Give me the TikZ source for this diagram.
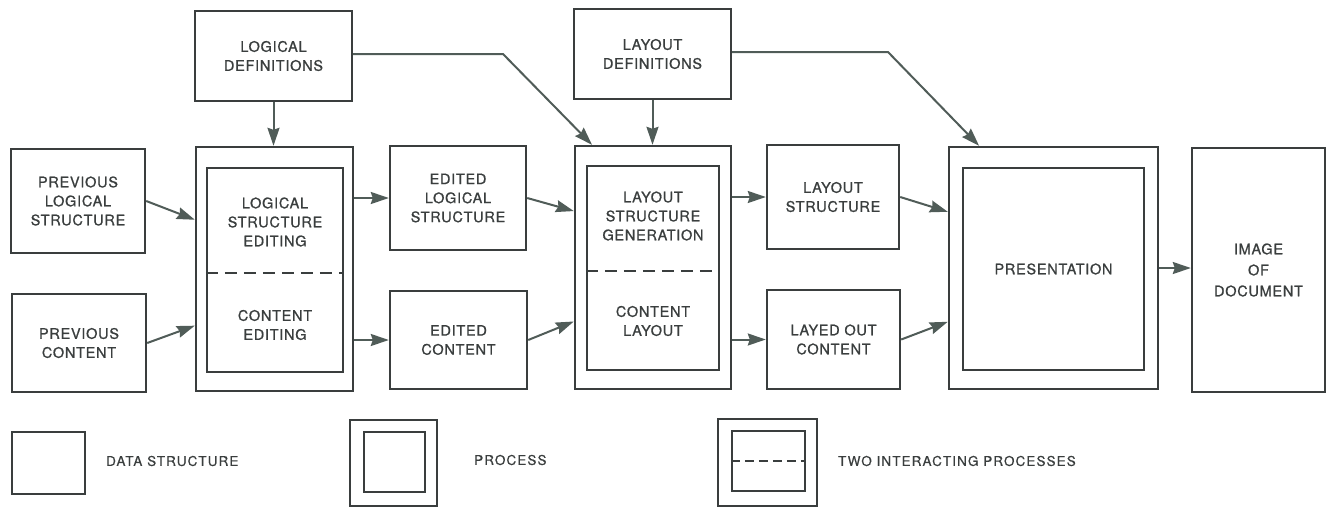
\documentclass[tikz,border=0pt]{standalone}
\usepackage{fontspec}
\setmainfont{TeX Gyre Heros}
\newfontfamily\labfont{TeX Gyre Heros}[LetterSpace=5,FakeBold=0.9]
\newfontfamily\keyfont{TeX Gyre Heros}[LetterSpace=8,FakeBold=0.5]
\usetikzlibrary{arrows.meta,calc}
\definecolor{ink}{RGB}{58,62,62}
\definecolor{arrc}{RGB}{80,92,88}
\tikzset{
  box/.style={draw=ink, line width=2.4pt, inner sep=0pt, align=center,
    font=\labfont\fontsize{14.5}{19}\selectfont, text=ink},
  txt/.style={inner sep=0pt, align=center, text=ink, font=\labfont\fontsize{14.5}{19}\selectfont},
  arr/.style={draw=arrc, line width=2pt, -{Stealth[length=18pt,width=12pt,inset=2pt]}},
  split/.style={draw=ink, line width=2.2pt, dash pattern=on 12pt off 7pt},
  keytxt/.style={inner sep=0pt, anchor=west, text=ink, font=\keyfont\fontsize{13.5}{15}\selectfont},
}
\begin{document}
\begin{tikzpicture}[x=1pt,y=-1pt]
\useasboundingbox (0,0) rectangle (1331,507);

% definitions
\node[box, minimum width=157pt, minimum height=90pt] (ld) at (273.5,56) {LOGICAL\\DEFINITIONS};
\node[box, minimum width=157pt, minimum height=90pt] (layd) at (652.5,54) {LAYOUT\\DEFINITIONS};

% inputs
\node[box, minimum width=134pt, minimum height=104pt] (pls) at (78,201) {PREVIOUS\\LOGICAL\\STRUCTURE};
\node[box, minimum width=134pt, minimum height=98pt] (pc) at (79,343) {PREVIOUS\\CONTENT};

% editing process
\node[box, minimum width=157pt, minimum height=244pt] (p1) at (274.5,269) {};
\node[box, minimum width=136pt, minimum height=204pt] (p1i) at (275,270) {};
\draw[split] ($(p1i.north west)!0.515!(p1i.south west)$) -- ($(p1i.north east)!0.515!(p1i.south east)$);
\node[txt] (p1a) at (275,222) {LOGICAL\\STRUCTURE\\EDITING};
\node[txt] (p1b) at (275,325) {CONTENT\\EDITING};

% edited data
\node[box, minimum width=136pt, minimum height=104pt] (els) at (458,198) {EDITED\\LOGICAL\\STRUCTURE};
\node[box, minimum width=137pt, minimum height=98pt] (ec) at (458.5,340) {EDITED\\CONTENT};

% layout process
\node[box, minimum width=156pt, minimum height=243pt] (p2) at (653,267.5) {};
\node[box, minimum width=132pt, minimum height=204pt] (p2i) at (653,268) {};
\draw[split] ($(p2i.north west)!0.515!(p2i.south west)$) -- ($(p2i.north east)!0.515!(p2i.south east)$);
\node[txt] (p2a) at (653,216) {LAYOUT\\STRUCTURE\\GENERATION};
\node[txt] (p2b) at (653,321) {CONTENT\\LAYOUT};

% laid out data
\node[box, minimum width=132pt, minimum height=104pt] (ls) at (833,197) {LAYOUT\\STRUCTURE};
\node[box, minimum width=133pt, minimum height=99pt] (loc) at (833.5,339.5) {LAYED OUT\\CONTENT};

% presentation
\node[box, minimum width=209pt, minimum height=242pt] (pres) at (1053.5,268) {};
\node[box, minimum width=181pt, minimum height=202pt] (presi) at (1053.5,269) {PRESENTATION};

% output
\node[box, minimum width=133pt, minimum height=244pt, font=\labfont\fontsize{14.5}{21}\selectfont] (img) at (1258.5,270) {IMAGE\\OF\\DOCUMENT};

% connectors
\coordinate (c1) at (503,54);
\coordinate (c2) at (888,52);
\draw[arr] (ld.south) -- (ld.south |- p1.north);
\draw[arr] (layd.south) -- (layd.south |- p2.north);
\draw[arr] (ld.east |- c1) -- (c1) -- ($(p2.north west)!0.115!(p2.north east)$);
\draw[arr] (layd.east |- c2) -- (c2) -- ($(pres.north west)!0.148!(pres.north east)$);

\draw[arr] (pls.east) -- ($(p1.north west)!0.30!(p1.south west)$);
\draw[arr] (pc.east) -- ($(p1.north west)!0.73!(p1.south west)$);
\draw[arr] (p1.east |- els.west) -- (els.west);
\draw[arr] (p1.east |- ec.west) -- (ec.west);

\draw[arr] (els.east) -- ($(p2.north west)!0.27!(p2.south west)$);
\draw[arr] (ec.east) -- ($(p2.north west)!0.72!(p2.south west)$);
\draw[arr] (p2.east |- ls.west) -- (ls.west);
\draw[arr] (p2.east |- loc.west) -- (loc.west);

\draw[arr] (ls.east) -- ($(pres.north west)!0.27!(pres.south west)$);
\draw[arr] (loc.east) -- ($(pres.north west)!0.72!(pres.south west)$);
\draw[arr] (pres.east) -- (img.west |- pres.east);

% key
\node[box, minimum width=73pt, minimum height=62pt] (kd) at (48.5,463) {};
\node[keytxt] (kdt) at (106,461) {DATA STRUCTURE};
\node[box, minimum width=87pt, minimum height=86pt] (kp) at (393.5,463) {};
\node[box, minimum width=61pt, minimum height=60pt] (kpi) at (394.5,462) {};
\node[keytxt] (kpt) at (474,460) {PROCESS};
\node[box, minimum width=99pt, minimum height=87pt] (kt) at (767.5,462.5) {};
\node[box, minimum width=73pt, minimum height=60pt] (kti) at (768.5,461) {};
\draw[draw=ink, line width=2.2pt, dash pattern=on 9pt off 5pt] (kti.west) -- (kti.east);
\node[keytxt] (ktt) at (838,461) {TWO INTERACTING PROCESSES};
\end{tikzpicture}
\end{document}
